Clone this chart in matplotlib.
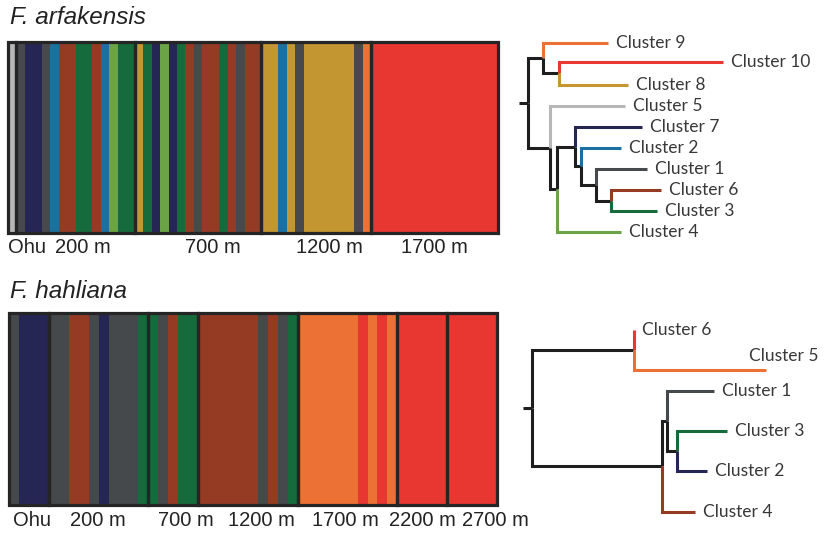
import numpy as np
import matplotlib
matplotlib.use('Agg')
import matplotlib.pyplot as plt
from matplotlib.patches import Rectangle

# ---- F. arfakensis data: cluster runs (cluster id, n individuals) per population
arf_pops = ['Ohu', '200 m', '700 m', '1200 m', '1700 m']
arf_runs = [
    [(5, 1)],
    [(1, 1), (7, 2), (1, 1), (2, 1), (6, 2), (3, 2), (6, 1), (2, 1), (4, 1), (3, 2)],
    [(8, 1), (3, 1), (7, 1), (4, 1), (7, 1), (3, 1), (6, 1), (1, 1), (6, 2), (3, 1),
     (6, 1), (1, 1), (6, 2)],
    [(8, 2), (2, 1), (8, 1), (1, 1), (8, 6), (1, 1), (9, 1)],
    [(10, 15)],
]
arf_colors = {1: '#47494c', 2: '#1b70a1', 3: '#156b3b', 4: '#6aa446', 5: '#b7b7b7',
              6: '#953b24', 7: '#262654', 8: '#c49631', 9: '#ec7134', 10: '#e83631'}
arf_label_x = [0.039, 0.153, 0.418, 0.657, 0.871]

# tree: (name, depth, children)
arf_tree = ('', 0, [
    ('', 15, [('Cluster 9', 80), ('', 31, [('Cluster 10', 195), ('Cluster 8', 100)])]),
    ('', 22, [('Cluster 5', 97),
              ('', 29, [('', 47, [('Cluster 7', 114),
                                  ('', 53, [('Cluster 2', 93),
                                            ('', 68, [('Cluster 1', 119),
                                                      ('', 83, [('Cluster 6', 133),
                                                                ('Cluster 3', 129)])])])]),
                        ('Cluster 4', 93)])]),
])
arf_leaf_slots = [0, 0.9, 2, 3, 4, 5, 6, 7, 8, 9]

# ---- F. hahliana data
hah_pops = ['Ohu', '200 m', '700 m', '1200 m', '1700 m', '2200 m', '2700 m']
hah_runs = [
    [(1, 1), (2, 3)],
    [(1, 2), (4, 2), (1, 1), (2, 1), (1, 3), (3, 1)],
    [(3, 1), (1, 1), (4, 1), (3, 2)],
    [(4, 6), (1, 1), (4, 1), (1, 1), (3, 1)],
    [(5, 6), (6, 1), (5, 1), (6, 1), (5, 1)],
    [(6, 5)],
    [(6, 5)],
]
hah_colors = {1: '#45494c', 2: '#262654', 3: '#156b3b', 4: '#953b24', 5: '#ec7134', 6: '#e83631'}
hah_label_x = [0.047, 0.182, 0.363, 0.518, 0.689, 0.848, 0.996]

hah_tree = ('', 0, [
    ('', 102, [('Cluster 6', 102), ('Cluster 5', 234)]),
    ('', 130, [('', 135, [('Cluster 1', 182), ('', 145, [('Cluster 3', 195), ('Cluster 2', 175)])]),
               ('Cluster 4', 163)]),
])
hah_leaf_slots = [0, 2, 3, 5, 7, 9]

EDGE = '#252525'
W, H = 831, 536


def draw_structure(ax, pops, runs, colors, label_x, label_y):
    x = 0
    for pop_runs in runs:
        start = x
        for cl, n in pop_runs:
            ax.bar(x, 1, width=n, align='edge', color=colors[cl], linewidth=0)
            x += n
        ax.add_patch(Rectangle((start, 0), x - start, 1, fill=False, ec=EDGE, lw=2.3,
                               clip_on=False, zorder=3))
    ax.set_xlim(0, x)
    ax.set_ylim(0, 1)
    ax.axis('off')
    for name, lx in zip(pops, label_x):
        ax.text(lx, label_y, name, transform=ax.transAxes, ha='center', va='center',
                fontsize=14.5, family='Liberation Sans', color='#222222')


def layout(node, slots, counter):
    if len(node) == 2:
        y = slots[counter[0]]
        counter[0] += 1
        return {'name': node[0], 'x': node[1], 'y': y, 'kids': []}
    kids = [layout(c, slots, counter) for c in node[2]]
    return {'name': node[0], 'x': node[1], 'y': np.mean([k['y'] for k in kids]), 'kids': kids}


def draw_tree(ax, node, colors, shifts):
    for k in node['kids']:
        col = colors.get(k['name'], '#1e1e1e')
        ax.plot([node['x'], node['x'], k['x']], [node['y'], k['y'], k['y']], color=col,
                lw=2.2, solid_capstyle='butt', solid_joinstyle='miter')
        if k['kids']:
            draw_tree(ax, k, colors, shifts)
        else:
            dx, dy = shifts.get(k['name'], (0, 0))
            ax.text(k['x'] + 8 + dx, k['y'] + dy, k['name'], ha='left', va='center',
                    fontsize=12.5, family='Lato', color='#383838')


def dendrogram(ax, tree, slots, colors, shifts):
    root = layout(tree, slots, [0])
    ax.plot([-9, 0], [root['y'], root['y']], color='#1e1e1e', lw=2.2, solid_capstyle='butt')
    draw_tree(ax, root, colors, shifts)
    ax.axis('off')


fig = plt.figure(figsize=(W / 100, H / 100), dpi=100)

# top structure plot
ax1 = fig.add_axes([8 / W, 1 - 233 / H, 490 / W, 191 / H])
draw_structure(ax1, arf_pops, arf_runs, arf_colors, arf_label_x, -0.075)

# top dendrogram
arf_col_by_name = {'Cluster %d' % k: v for k, v in arf_colors.items()}
ax2 = fig.add_axes([510 / W, 1 - 250 / H, 320 / W, 225 / H])
dendrogram(ax2, arf_tree, arf_leaf_slots, arf_col_by_name, {})
ax2.set_xlim(-18, 302)
ax2.set_ylim((250 - 43) / 21, (25 - 43) / 21)

# bottom structure plot
ax3 = fig.add_axes([9 / W, 1 - 505 / H, 488 / W, 192 / H])
draw_structure(ax3, hah_pops, hah_runs, hah_colors, hah_label_x, -0.083)

# bottom dendrogram
hah_col_by_name = {'Cluster %d' % k: v for k, v in hah_colors.items()}
ax4 = fig.add_axes([510 / W, 1 - 530 / H, 320 / W, 230 / H])
dendrogram(ax4, hah_tree, hah_leaf_slots, hah_col_by_name, {'Cluster 5': (-25, -0.7)})
ax4.set_xlim(-22, 298)
ax4.set_ylim((530 - 330) / 20.2, (300 - 330) / 20.2)

fig.text(10 / W, 1 - 17 / H, 'F. arfakensis', ha='left', va='center', fontsize=17.5,
         family='Liberation Sans', style='italic', color='#222222')
fig.text(10 / W, 1 - 292 / H, 'F. hahliana', ha='left', va='center', fontsize=17.5,
         family='Liberation Sans', style='italic', color='#222222')

fig.savefig('out.png', dpi=100)
